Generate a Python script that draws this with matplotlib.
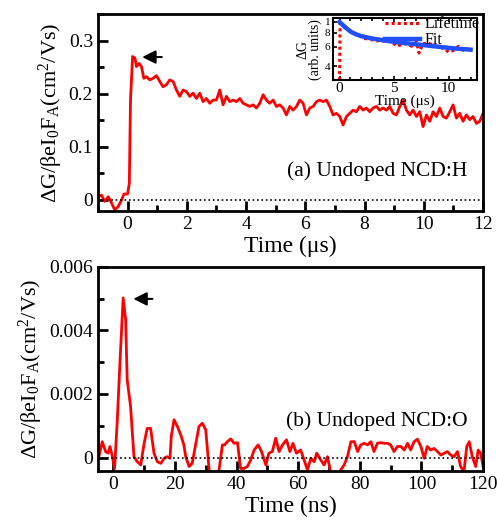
import numpy as np
import matplotlib
matplotlib.use('Agg')
import matplotlib.pyplot as plt
from matplotlib.ticker import MultipleLocator, FormatStrFormatter, FixedLocator

plt.rcParams['font.family'] = ['Liberation Serif', 'DejaVu Serif']
plt.rcParams['mathtext.fontset'] = 'custom'
plt.rcParams['mathtext.rm'] = 'Liberation Serif'
plt.rcParams['mathtext.it'] = 'Liberation Serif:italic'
plt.rcParams['mathtext.default'] = 'regular'

# (a) Undoped NCD:H, time in microseconds
t_a_head = [-0.99, -0.88, -0.77, -0.65, -0.54, -0.43, -0.32, -0.20, -0.12, 0.0,
            0.06, 0.10, 0.17, 0.25, 0.30, 0.39, 0.47, 0.55, 0.64]
g_a_head = [0.006, 0.009, -0.003, 0.006, -0.006, -0.019, -0.013, 0.0, 0.011, 0.011,
            0.031, 0.188, 0.270, 0.267, 0.251, 0.257, 0.251, 0.229, 0.232]
g_a_tail = [0.226, 0.229, 0.234, 0.223, 0.213, 0.217, 0.226, 0.223, 0.207, 0.195,
            0.207, 0.204, 0.195, 0.201, 0.191, 0.201, 0.185, 0.191, 0.182, 0.188,
            0.188, 0.207, 0.179, 0.195, 0.185, 0.188, 0.185, 0.191, 0.182, 0.179,
            0.176, 0.179, 0.173, 0.182, 0.198, 0.188, 0.182, 0.188, 0.176, 0.179,
            0.173, 0.160, 0.176, 0.169, 0.176, 0.188, 0.182, 0.160, 0.173, 0.176,
            0.185, 0.188, 0.185, 0.188, 0.176, 0.160, 0.163, 0.157, 0.141, 0.157,
            0.163, 0.169, 0.166, 0.176, 0.169, 0.173, 0.166, 0.173, 0.176, 0.169,
            0.173, 0.169, 0.176, 0.163, 0.160, 0.176, 0.188, 0.169, 0.160, 0.169,
            0.157, 0.166, 0.138, 0.160, 0.148, 0.166, 0.157, 0.173, 0.157, 0.154,
            0.166, 0.179, 0.154, 0.163, 0.148, 0.160, 0.151, 0.157, 0.144, 0.148,
            0.163]
t_a_tail = np.linspace(0.75, 12.0, len(g_a_tail))

# inset: lifetime (log scale) and fit
t_life = [0.0, 0.05, 0.09, 0.53, 0.98, 1.42, 1.86, 2.3, 2.9, 3.34, 3.79, 4.23, 4.67,
          5.27, 5.71, 6.15, 6.6, 7.04, 7.28, 7.63, 8.22, 8.67, 9.11, 9.56, 10.0,
          10.44, 10.89, 11.33, 11.78]
g_life = [0.30, 0.97, 0.97, 0.907, 0.834, 0.789, 0.746, 0.711, 0.696, 0.672, 0.686,
          0.663, 0.677, 0.605, 0.627, 0.640, 0.605, 0.663, 0.526, 0.640, 0.640,
          0.618, 0.597, 0.576, 0.537, 0.556, 0.605, 0.556, 0.576]
t_fit = [0.0, 0.5, 1.0, 1.5, 2.0, 3.0, 4.0, 5.0, 6.0, 7.0, 8.0, 9.0, 10.0, 11.0, 12.0]
g_fit = [1.0, 0.90, 0.82, 0.775, 0.746, 0.71, 0.685, 0.663, 0.646, 0.631, 0.615,
         0.600, 0.585, 0.574, 0.564]

# (b) Undoped NCD:O, time in ns, values in units of 1e-3
t_b = [-4.65, -3.6, -2.5, -1.7, -1.1, -0.3, 0.4, 1.3, 2.2, 3.2, 4.0, 4.5, 5.6, 6.7,
       7.8, 8.9, 10.0, 11.0, 12.1, 13.2, 14.3, 15.4, 16.5, 17.5, 18.4, 18.8, 19.7,
       20.8, 21.9, 22.9, 23.5, 24.6, 25.6, 26.7, 27.8, 28.9, 30.0, 31.1, 32.7, 34.3,
       35.4, 36.1, 37.0, 38.1, 39.2, 40.3, 41.3, 42.4, 43.5, 44.6, 45.7, 47.0, 48.1,
       49.5, 50.5, 51.6, 52.7, 53.8, 54.9, 56.2, 57.3, 58.3, 59.4, 60.8, 61.9, 63.0,
       64.1, 65.2, 66.0, 67.3, 68.4, 69.5, 70.6, 72.2, 73.8, 74.9, 76.0, 77.1, 78.2,
       79.3, 80.3, 81.4, 82.5, 83.6, 84.6, 85.7, 86.8, 87.9, 89.0, 90.0, 91.1, 92.2,
       93.3, 94.4, 95.5, 96.5, 97.6, 98.7, 99.8, 100.9, 101.9, 103.0, 104.1, 105.2,
       106.3, 107.4, 108.4, 109.5, 110.6, 111.7, 112.7, 113.8, 114.7, 115.5, 116.5,
       117.6, 118.4, 119.2, 120.0]
g_b = [0.03, 0.5, 0.19, 0.14, 0.35, 0.03, -0.34, 1.19, 3.08, 5.02, 4.34, 2.45, 1.61,
       0.03, -0.13, -0.23, 0.45, 0.92, 0.92, 0.14, -0.13, -0.18, -0.02, 0.03, -0.02,
       0.66, 1.19, 0.98, 0.71, 0.40, 0.03, -0.28, -0.18, 0.40, 0.98, 1.08, 0.87,
       -0.39, -0.9, -0.39, 0.40, 0.40, 0.50, 0.59, 0.45, 0.47, -0.34, -0.34, -0.28,
       -0.07, 0.24, 0.40, 0.19, -0.23, 0.14, 0.19, 0.61, 0.19, 0.40, 0.56, 0.19, 0.45,
       0.14, 0.24, -0.07, -0.39, -0.02, -0.13, 0.14, -0.07, -0.23, 0.03, -0.49, -1.1,
       -0.39, -0.23, 0.03, 0.50, 0.50, 0.19, 0.40, 0.45, 0.40, 0.50, 0.19, 0.45, 0.47,
       0.45, 0.45, 0.40, 0.19, 0.35, 0.35, 0.24, 0.45, 0.24, 0.50, 0.58, 0.35, -0.02,
       0.35, 0.24, 0.29, 0.19, 0.08, 0.14, 0.19, 0.08, 0.03, 0.19, -0.28, -0.44, 0.35,
       0.50, 0.03, -0.28, 0.24, 0.14, -0.28]

ylab = r'$\Delta$G/$\beta$eI$_0$F$_A$(cm$^2$/Vs)'

fig = plt.figure(figsize=(4.97, 5.21), dpi=100)
ax1 = fig.add_axes([0.197, 0.595, 0.775, 0.378])
ax2 = fig.add_axes([0.197, 0.096, 0.775, 0.392])


def style(ax):
    for s in ax.spines.values():
        s.set_linewidth(2)
    ax.tick_params(which='both', direction='in', width=2, labelsize=14,
                   top=False, right=False)
    ax.tick_params(which='major', length=7)
    ax.tick_params(which='minor', length=4)


# top panel
ax1.plot(list(t_a_head) + list(t_a_tail), g_a_head + g_a_tail, color='red', lw=2)
ax1.axhline(0, color='k', ls=':', lw=1.2)
ax1.set_xlim(-1, 12)
ax1.set_ylim(-0.021, 0.35)
ax1.xaxis.set_major_locator(MultipleLocator(2))
ax1.xaxis.set_minor_locator(MultipleLocator(1))
ax1.yaxis.set_major_locator(MultipleLocator(0.1))
ax1.yaxis.set_minor_locator(MultipleLocator(0.05))
ax1.yaxis.set_major_formatter(FormatStrFormatter('%g'))
style(ax1)
ax1.set_xlabel('Time (μs)', fontsize=17, labelpad=2)
ax1.set_ylabel(ylab, fontsize=16, labelpad=3)
ax1.text(0.96, 0.2, '(a) Undoped NCD:H', transform=ax1.transAxes, fontsize=15.5,
         ha='right', va='center')
ax1.annotate('', xy=(0.40, 0.269), xytext=(1.25, 0.269),
             arrowprops=dict(arrowstyle='-|>', color='k', lw=1.5, mutation_scale=20))

# inset
axi = fig.add_axes([0.670, 0.846, 0.290, 0.119])
axi.plot(t_life, g_life, color='red', ls=(0, (1, 1)), lw=2.2, label='Lifetime')
axi.plot(t_fit, g_fit, color='#1f4fff', lw=3.2, label='Fit')
axi.set_yscale('log')
axi.set_xlim(-0.6, 12.6)
axi.set_ylim(0.3, 1.08)
axi.yaxis.set_major_locator(FixedLocator([0.4, 0.6, 0.8, 1.0]))
axi.yaxis.set_minor_locator(FixedLocator([]))
axi.set_yticklabels(['4', '6', '8', '1'])
axi.xaxis.set_major_locator(MultipleLocator(5))
axi.xaxis.set_minor_locator(MultipleLocator(1))
for s in axi.spines.values():
    s.set_linewidth(1.5)
axi.tick_params(which='both', direction='in', width=1.2, top=True, right=False)
axi.tick_params(axis='y', labelsize=8, length=3, pad=2)
axi.tick_params(axis='x', labelsize=11, length=3, pad=1)
axi.tick_params(which='minor', length=2)
axi.set_xlabel('Time (μs)', fontsize=11, labelpad=0)
axi.set_ylabel('ΔG\n(arb. units)', fontsize=10, labelpad=2, linespacing=0.9)
axi.legend(loc='upper right', frameon=False, fontsize=11.5, handlelength=2.2,
           borderpad=0.0, labelspacing=0.0, handletextpad=0.3,
           borderaxespad=0.0, bbox_to_anchor=(1.02, 1.03))

# bottom panel
ax2.plot(t_b, np.array(g_b) * 1e-3, color='red', lw=2)
ax2.axhline(0, color='k', ls=':', lw=1.2)
ax2.set_xlim(-5, 120)
ax2.set_ylim(-0.00042, 0.006)
ax2.xaxis.set_major_locator(MultipleLocator(20))
ax2.xaxis.set_minor_locator(MultipleLocator(10))
ax2.yaxis.set_major_locator(MultipleLocator(0.002))
ax2.yaxis.set_minor_locator(MultipleLocator(0.001))
ax2.yaxis.set_major_formatter(FormatStrFormatter('%g'))
style(ax2)
ax2.set_xlabel('Time (ns)', fontsize=17, labelpad=2)
ax2.set_ylabel(ylab, fontsize=16, labelpad=3)
ax2.text(0.96, 0.245, '(b) Undoped NCD:O', transform=ax2.transAxes, fontsize=15.5,
         ha='right', va='center')
ax2.annotate('', xy=(5.6, 0.00499), xytext=(13.6, 0.00499),
             arrowprops=dict(arrowstyle='-|>', color='k', lw=1.5, mutation_scale=20))

fig.savefig('out.png', dpi=100)
